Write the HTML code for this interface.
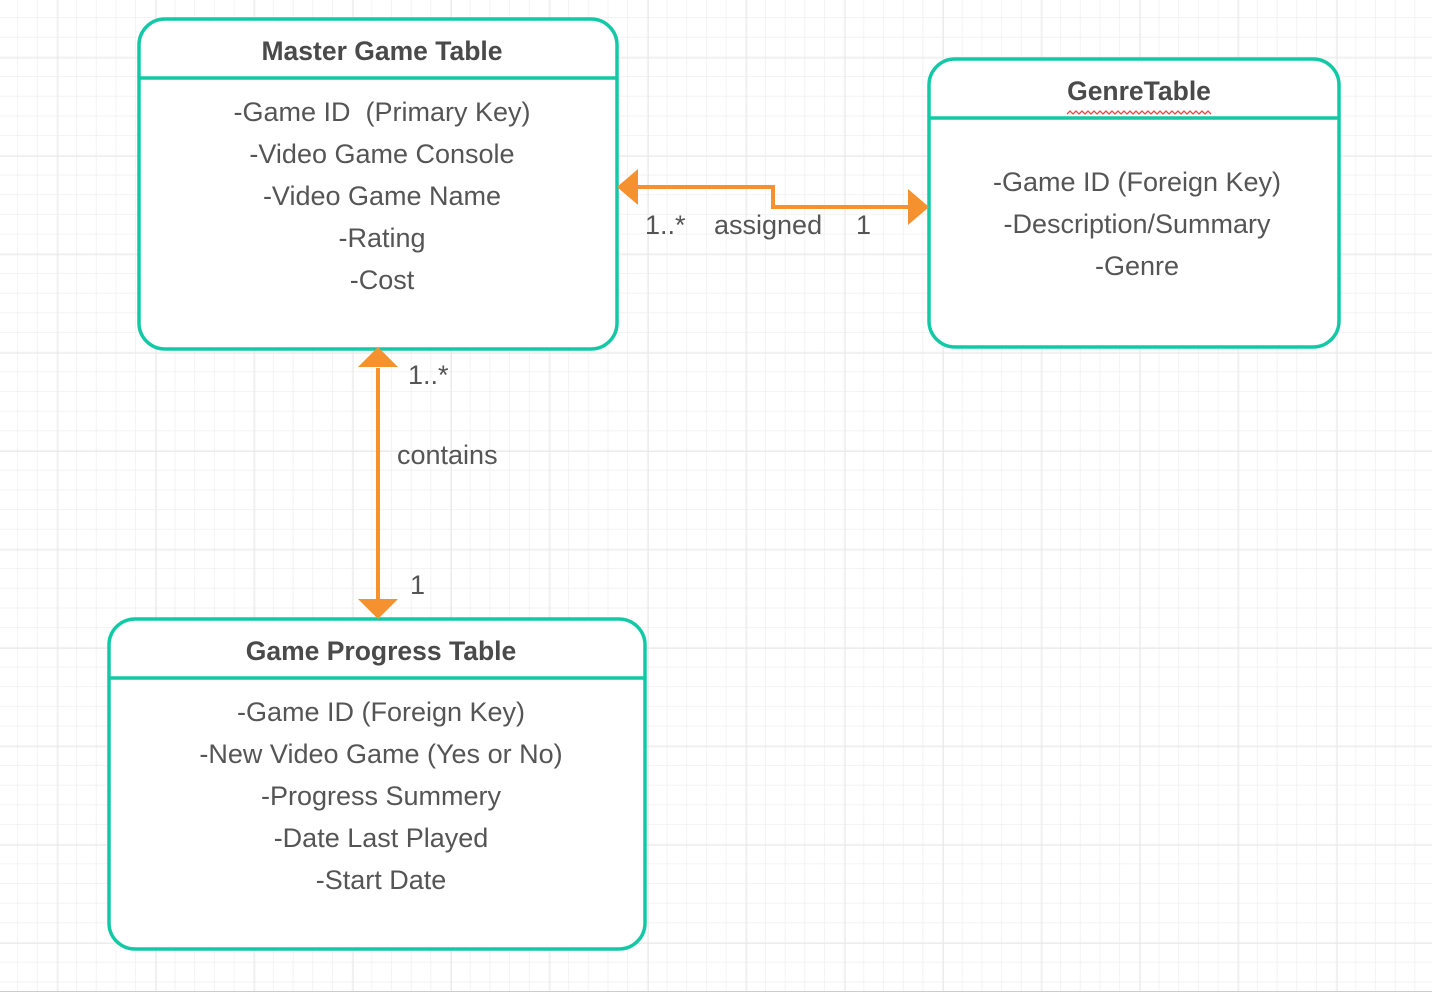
<!DOCTYPE html>
<html><head><meta charset="utf-8"><style>
html,body{margin:0;padding:0;background:#fff;}
body{width:1432px;height:994px;position:relative;overflow:hidden;font-family:"Liberation Sans",sans-serif;color:#555;}
svg{position:absolute;left:0;top:0;}
.t{position:absolute;text-align:center;font-size:27px;line-height:42px;}
.h{position:absolute;text-align:center;font-size:26.5px;font-weight:bold;color:#4a4a4a;}
.l{position:absolute;font-size:27px;color:#555;}
</style></head><body>
<svg width="1432" height="994">
<defs>
<pattern id="g" x="-1.7" y="-1.7" width="19.68" height="19.68" patternUnits="userSpaceOnUse">
<path d="M19.68 0V19.68M0 19.68H19.68" stroke="#efefef" stroke-width="1.5" fill="none"/>
</pattern>
<pattern id="G" x="-40" y="-40" width="98.4" height="98.4" patternUnits="userSpaceOnUse">
<path d="M98.4 0V98.4M0 98.4H98.4" stroke="#e6e6e6" stroke-width="1.5" fill="none"/>
</pattern>
</defs>
<rect width="1432" height="991" fill="url(#g)"/>
<rect width="1432" height="991" fill="url(#G)"/>
<line x1="0" y1="991.5" x2="1432" y2="991.5" stroke="#ccc"/>
<g fill="#fff" stroke="#13c9a5" stroke-width="3.5">
<rect x="139" y="19" width="478" height="330" rx="26"/>
<line x1="139" y1="78" x2="617" y2="78"/>
<rect x="929" y="59" width="410" height="288" rx="26"/>
<line x1="929" y1="118" x2="1339" y2="118"/>
<rect x="109" y="619" width="536" height="330" rx="26"/>
<line x1="109" y1="678" x2="645" y2="678"/>
</g>
<g stroke="#f5922f" stroke-width="4" fill="none">
<polyline points="636,187 773,187 773,207 910,207"/>
<line x1="378" y1="368" x2="378" y2="600"/>
</g>
<g fill="#f5922f">
<polygon points="617,187 638,169 638,205"/>
<polygon points="929,207 908,189 908,225"/>
<polygon points="378,347 358,367 398,367"/>
<polygon points="378,619 358,599 398,599"/>
</g>
<path d="M1067 114 l3 -3 l3 3 l3 -3 l3 3 l3 -3 l3 3 l3 -3 l3 3 l3 -3 l3 3 l3 -3 l3 3 l3 -3 l3 3 l3 -3 l3 3 l3 -3 l3 3 l3 -3 l3 3 l3 -3 l3 3 l3 -3 l3 3 l3 -3 l3 3 l3 -3 l3 3 l3 -3 l3 3 l3 -3 l3 3 l3 -3 l3 3 l3 -3 l3 3 l3 -3 l3 3 l3 -3 l3 3 l3 -3 l3 3 l3 -3 l3 3 l3 -3 l3 3 l3 -3 l3 3" stroke="#e84a4a" stroke-width="1.3" fill="none"/>
</svg>
<div class="h" style="left:139px;width:486px;top:36px;">Master Game Table</div>
<div class="t" style="left:139px;width:486px;top:91px;">-Game ID&nbsp; (Primary Key)<br>-Video Game Console<br>-Video Game Name<br>-Rating<br>-Cost</div>
<div class="h" style="left:929px;width:420px;top:76px;">GenreTable</div>
<div class="t" style="left:929px;width:416px;top:161px;">-Game ID (Foreign Key)<br>-Description/Summary<br>-Genre</div>
<div class="h" style="left:109px;width:544px;top:636px;">Game Progress Table</div>
<div class="t" style="left:109px;width:544px;top:691px;">-Game ID (Foreign Key)<br>-New Video Game (Yes or No)<br>-Progress Summery<br>-Date Last Played<br>-Start Date</div>
<div class="l" style="left:645px;top:210px;">1..*</div>
<div class="l" style="left:714px;top:210px;">assigned</div>
<div class="l" style="left:856px;top:210px;">1</div>
<div class="l" style="left:408px;top:360px;">1..*</div>
<div class="l" style="left:397px;top:440px;">contains</div>
<div class="l" style="left:410px;top:570px;">1</div>
</body></html>
